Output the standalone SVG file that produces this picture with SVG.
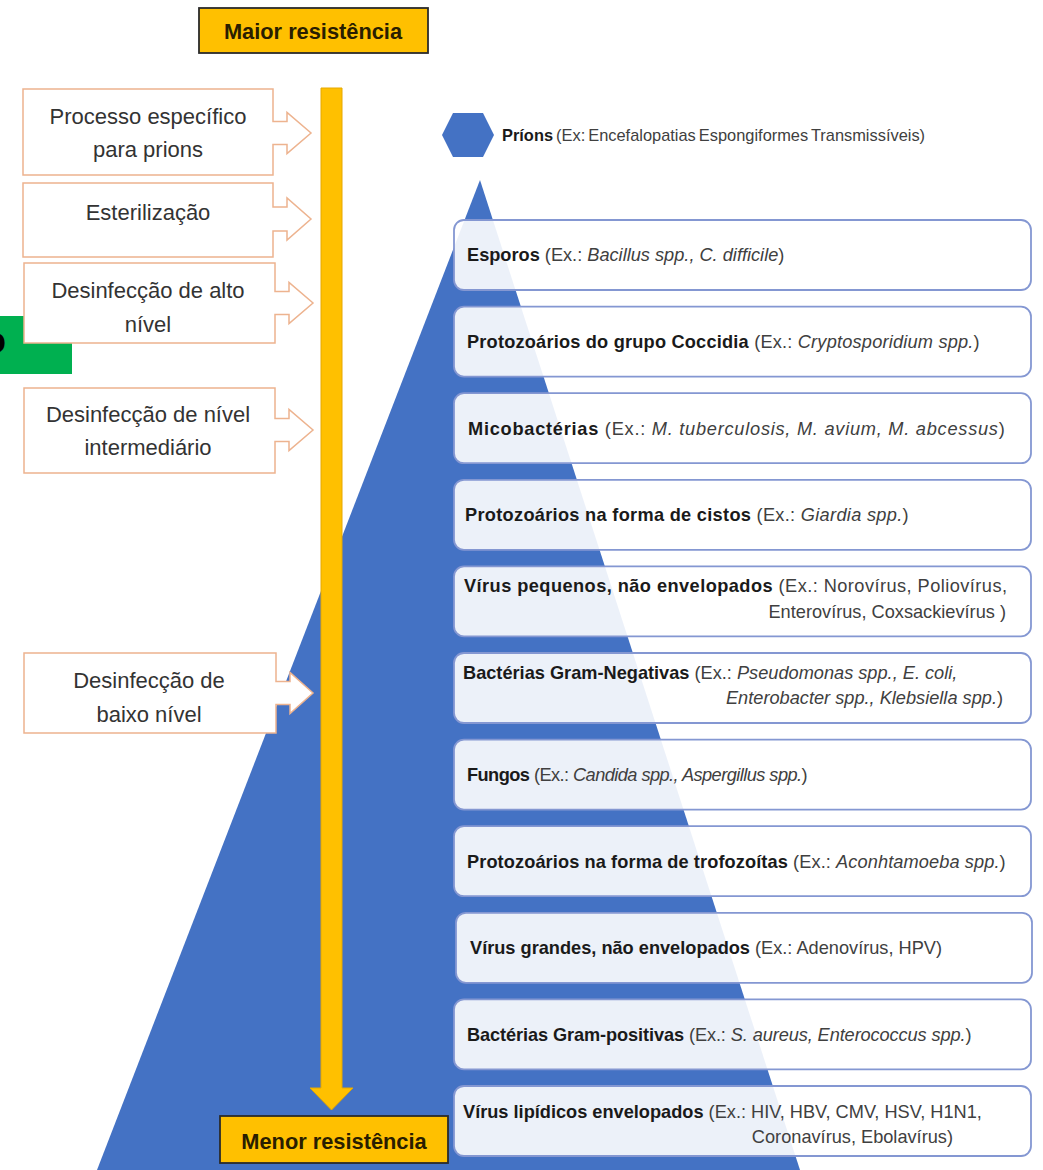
<svg xmlns="http://www.w3.org/2000/svg" width="1043" height="1170" viewBox="0 0 1043 1170">
<style>
.lbox{fill:#ffffff;stroke:#EDB38F;stroke-width:1.5}
.rbox{fill:#ffffff;fill-opacity:0.9;stroke:#8497D2;stroke-width:1.8}
.lt{font-family:"Liberation Sans",Arial,sans-serif;font-size:22px;fill:#333333;text-anchor:middle}
.rt{font-family:"Liberation Sans",Arial,sans-serif;font-size:18.2px;fill:#404040}
.b{font-weight:bold;fill:#1a1a1a}
.i{font-style:italic}
.res{fill:#FFC000;stroke:#2b2b2b;stroke-width:1.8}
.rest{font-family:"Liberation Sans",Arial,sans-serif;font-size:21.8px;font-weight:bold;fill:#2a1e00;text-anchor:middle}
</style>
<rect width="1043" height="1170" fill="#ffffff"/>
<g id="pyramid">
<polygon points="480,180 97,1170 800,1170" fill="#4472C4"/>
</g>
<g id="connectors">
<path d="M321,88 H342 V1088 H353 L331.5,1110 L310,1088 H321 Z" fill="#FFC000" stroke="#E6A800" stroke-width="1"/>
</g>
<g id="maior">
<rect class="res" x="199" y="8" width="229" height="45"/>
<text class="rest" x="313" y="39">Maior resistência</text>
</g>
<g id="menor">
<rect class="res" x="220" y="1116" width="228" height="47"/>
<text class="rest" x="334" y="1149">Menor resistência</text>
</g>
<g id="green">
<rect x="0" y="316" width="72" height="58" fill="#00B050"/>
<text x="-16" y="353" font-family="Liberation Sans,Arial,sans-serif" font-size="36" font-weight="bold" fill="#000000">o</text>
</g>
<g id="proc-prions">
<path class="lbox" d="M23,89 H273 V121.5 H287 V112.5 L311,133 L287,153.5 V144.5 H273 V175 H23 Z"/>
<text class="lt" x="148" y="124">Processo específico</text>
<text class="lt" x="148" y="157">para prions</text>
</g>
<g id="esterilizacao">
<path class="lbox" d="M23,183 H273 V207 H287 V198 L311,219 L287,240 V231 H273 V257 H23 Z"/>
<text class="lt" x="148" y="220">Esterilização</text>
</g>
<g id="alto-nivel">
<path class="lbox" d="M24,263 H275 V291.5 H289 V282.5 L313,303 L289,323.5 V314.5 H275 V343 H24 Z"/>
<text class="lt" x="148" y="298">Desinfecção de alto</text>
<text class="lt" x="148" y="332">nível</text>
</g>
<g id="nivel-intermediario">
<path class="lbox" d="M24,388 H275 V418.5 H289 V409.5 L313,430 L289,450.5 V441.5 H275 V473 H24 Z"/>
<text class="lt" x="148" y="422">Desinfecção de nível</text>
<text class="lt" x="148" y="455">intermediário</text>
</g>
<g id="baixo-nivel">
<path class="lbox" d="M24,653 H276 V681.5 H290 V672.5 L313,693 L290,713.5 V704.5 H276 V733 H24 Z"/>
<text class="lt" x="149" y="688">Desinfecção de</text>
<text class="lt" x="149" y="722">baixo nível</text>
</g>
<g id="prions">
<polygon points="453,113 483,113 494,135 483,157 453,157 442,135" fill="#4472C4"/>
<text class="rt" x="502" y="141" style="font-size:16.4px" word-spacing="-1.5"><tspan class="b">Príons</tspan> (Ex: Encefalopatias Espongiformes Transmissíveis)</text>
</g>
<g id="esporos">
<rect class="rbox" x="454" y="220" width="577" height="70" rx="10"/>
<text class="rt" x="467" y="261"><tspan class="b">Esporos </tspan>(Ex.: <tspan class="i">Bacillus spp., C. difficile</tspan>)</text>
</g>
<g id="coccidia">
<rect class="rbox" x="454" y="306.6" width="577" height="70" rx="10"/>
<text class="rt" x="467" y="347.6" letter-spacing="0.2"><tspan class="b">Protozoários do grupo Coccidia </tspan>(Ex.: <tspan class="i">Cryptosporidium spp.</tspan>)</text>
</g>
<g id="micobacterias">
<rect class="rbox" x="454" y="393.2" width="577" height="70" rx="10"/>
<text class="rt" x="468" y="434.5" letter-spacing="0.75"><tspan class="b">Micobactérias </tspan>(Ex.: <tspan class="i">M. tuberculosis, M. avium, M. abcessus</tspan>)</text>
</g>
<g id="cistos">
<rect class="rbox" x="454" y="479.8" width="577" height="70" rx="10"/>
<text class="rt" x="465" y="521" letter-spacing="0.3"><tspan class="b">Protozoários na forma de cistos </tspan>(Ex.: <tspan class="i">Giardia spp.</tspan>)</text>
</g>
<g id="virus-pequenos">
<rect class="rbox" x="454" y="566.4" width="577" height="70" rx="10"/>
<text class="rt" x="464" y="592" letter-spacing="0.45"><tspan class="b">Vírus pequenos, não envelopados </tspan>(Ex.: Norovírus, Poliovírus,</text>
<text class="rt" x="1006" y="618" text-anchor="end">Enterovírus, Coxsackievírus )</text>
</g>
<g id="gram-negativas">
<rect class="rbox" x="454" y="653" width="577" height="70" rx="10"/>
<text class="rt" x="463" y="679"><tspan class="b">Bactérias Gram-Negativas </tspan>(Ex.: <tspan class="i">Pseudomonas spp., E. coli,</tspan></text>
<text class="rt" x="1003" y="704" text-anchor="end"><tspan class="i">Enterobacter spp., Klebsiella spp.</tspan>)</text>
</g>
<g id="fungos">
<rect class="rbox" x="454" y="739.6" width="577" height="70" rx="10"/>
<text class="rt" x="467" y="781" letter-spacing="-0.55"><tspan class="b">Fungos </tspan>(Ex.: <tspan class="i">Candida spp., Aspergillus spp.</tspan>)</text>
</g>
<g id="trofozoitas">
<rect class="rbox" x="454" y="826.2" width="577" height="70" rx="10"/>
<text class="rt" x="467" y="867.5" letter-spacing="0.1"><tspan class="b">Protozoários na forma de trofozoítas </tspan>(Ex.: <tspan class="i">Aconhtamoeba spp.</tspan>)</text>
</g>
<g id="virus-grandes">
<rect class="rbox" x="456" y="912.8" width="576" height="70" rx="10"/>
<text class="rt" x="470" y="954"><tspan class="b">Vírus grandes, não envelopados </tspan>(Ex.: Adenovírus, HPV)</text>
</g>
<g id="gram-positivas">
<rect class="rbox" x="454" y="999.4" width="577" height="70" rx="10"/>
<text class="rt" x="467" y="1040.5" letter-spacing="-0.1"><tspan class="b">Bactérias Gram-positivas </tspan>(Ex.: <tspan class="i">S. aureus, Enterococcus spp.</tspan>)</text>
</g>
<g id="virus-lipidicos">
<rect class="rbox" x="454" y="1086" width="577" height="70" rx="10"/>
<text class="rt" x="463" y="1118"><tspan class="b">Vírus lipídicos envelopados </tspan>(Ex.: HIV, HBV, CMV, HSV, H1N1,</text>
<text class="rt" x="953" y="1143" text-anchor="end">Coronavírus, Ebolavírus)</text>
</g>
</svg>
